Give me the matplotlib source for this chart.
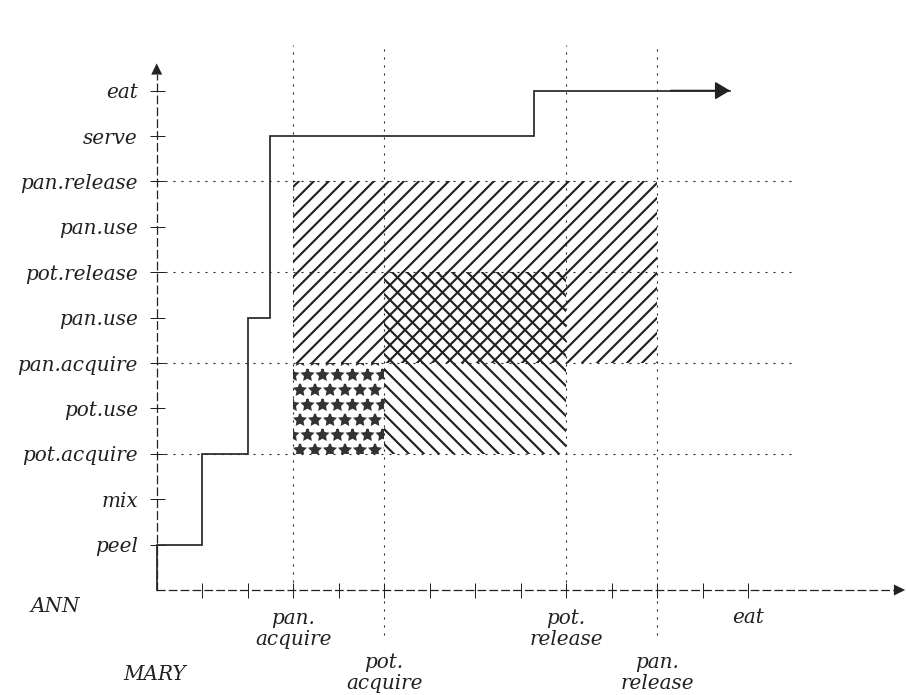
import matplotlib.pyplot as plt
from matplotlib.patches import Rectangle

# ---- data ----
ann_steps = ['peel', 'mix', 'pot.acquire', 'pot.use', 'pan.acquire', 'pan.use',
             'pot.release', 'pan.use', 'pan.release', 'serve', 'eat']
mary_steps = ['', '', 'pan.\nacquire', '', 'pot.\nacquire', '', '', '',
              'pot.\nrelease', '', 'pan.\nrelease', '', 'eat']

# resource hold intervals (start step, end step)
pan_mary = (3, 11)
pan_ann = (5, 9)
pot_mary = (5, 9)
pot_ann = (3, 7)

# execution trajectory (mary, ann)
traj_x = [0, 0, 1, 1, 2, 2, 2.5, 2.5, 8.3, 8.3, 12.6]
traj_y = [0, 1, 1, 3, 3, 6, 6, 10, 10, 11, 11]

# ---- figure ----
plt.rcParams['font.family'] = 'DejaVu Serif'
plt.rcParams['font.style'] = 'italic'
plt.rcParams['hatch.linewidth'] = 1.7
plt.rcParams['lines.scale_dashes'] = False

DPI = 90
fig = plt.figure(figsize=(906 / DPI, 695 / DPI), dpi=DPI)
ax = fig.add_axes([0, 0, 1, 1])
ux, uy = 45.5, 45.4
ax.set_xlim(-156.7 / ux, (906 - 156.7) / ux)
ax.set_ylim(-(695 - 590) / uy, 590 / uy)

ink = '#222222'
FS = 16

# hatched regions
ax.add_patch(Rectangle((pan_mary[0], pan_ann[0]), pan_mary[1] - pan_mary[0],
                       pan_ann[1] - pan_ann[0], facecolor='none',
                       edgecolor=ink, lw=0, hatch='//'))
ax.add_patch(Rectangle((pot_mary[0], pot_ann[0]), pot_mary[1] - pot_mary[0],
                       pot_ann[1] - pot_ann[0], facecolor='none',
                       edgecolor=ink, lw=0, hatch='\\\\'))
ax.add_patch(Rectangle((pan_mary[0], pot_ann[0]), pot_mary[0] - pan_mary[0],
                       pan_ann[0] - pot_ann[0], facecolor='none',
                       edgecolor='#333333', lw=0, hatch='*'))

# dotted guide lines
dot = (0, (1.6, 4.8))
for xv in sorted(set(pan_mary + pot_mary)):
    low = 0 if xv in (pan_mary[0], pot_mary[1]) else -1.0
    ax.plot([xv, xv], [low, 12.0], color=ink, lw=0.9, ls=dot, clip_on=False)
for yv in sorted(set(pan_ann + pot_ann)):
    ax.plot([0, 14.05], [yv, yv], color=ink, lw=0.9, ls=dot)

# trajectory
ax.plot(traj_x, traj_y, color='#2a2a2a', lw=1.4, solid_joinstyle='miter')
ax.annotate('', xy=(traj_x[-1], traj_y[-1]), xytext=(traj_x[-2] + 3, traj_y[-2]),
            arrowprops=dict(arrowstyle='-|>,head_length=0.5,head_width=0.3',
                            color='#222222', lw=1.4, mutation_scale=20,
                            shrinkA=0, shrinkB=0))

# axes (dashed, with arrows)
for s in ['top', 'right']:
    ax.spines[s].set_visible(False)
ax.spines['left'].set_position(('data', 0))
ax.spines['bottom'].set_position(('data', 0))
ax.spines['left'].set_bounds(0, 11.35)
ax.spines['bottom'].set_bounds(0, 16.2)
for s in ['left', 'bottom']:
    ax.spines[s].set_linestyle((0, (6, 3.5)))
    ax.spines[s].set_linewidth(1.0)
    ax.spines[s].set_color(ink)
ax.annotate('', xy=(0, 11.6), xytext=(0, 11.0),
            arrowprops=dict(arrowstyle='-|>,head_length=0.45,head_width=0.22',
                            color=ink, lw=0, mutation_scale=20,
                            shrinkA=0, shrinkB=0), annotation_clip=False)
ax.annotate('', xy=(16.45, 0), xytext=(15.8, 0),
            arrowprops=dict(arrowstyle='-|>,head_length=0.45,head_width=0.22',
                            color=ink, lw=0, mutation_scale=20,
                            shrinkA=0, shrinkB=0), annotation_clip=False)

ax.set_yticks(range(1, len(ann_steps) + 1))
ax.set_yticklabels(ann_steps, fontsize=FS, color=ink)
ax.set_xticks(range(1, len(mary_steps) + 1))
ax.set_xticklabels([''] * len(mary_steps))
ax.tick_params(axis='both', direction='inout', length=12, width=0.8,
               color=ink)
ax.tick_params(axis='y', pad=9)

# mary labels, staggered rows
row = 0
for i, lab in enumerate(mary_steps, start=1):
    if not lab:
        continue
    ypos = -0.86 if row % 2 == 0 else -1.83
    if '\n' not in lab:
        ypos = -0.6
    ax.text(i, ypos, lab, ha='center', va='center', fontsize=FS, color=ink,
            linespacing=1.1)
    row += 1

ax.text(-2.23, -0.37, 'ANN', ha='center', va='center', fontsize=FS, color=ink)
ax.text(-0.05, -1.87, 'MARY', ha='center', va='center', fontsize=FS, color=ink)

fig.savefig('out.png', dpi=DPI)
